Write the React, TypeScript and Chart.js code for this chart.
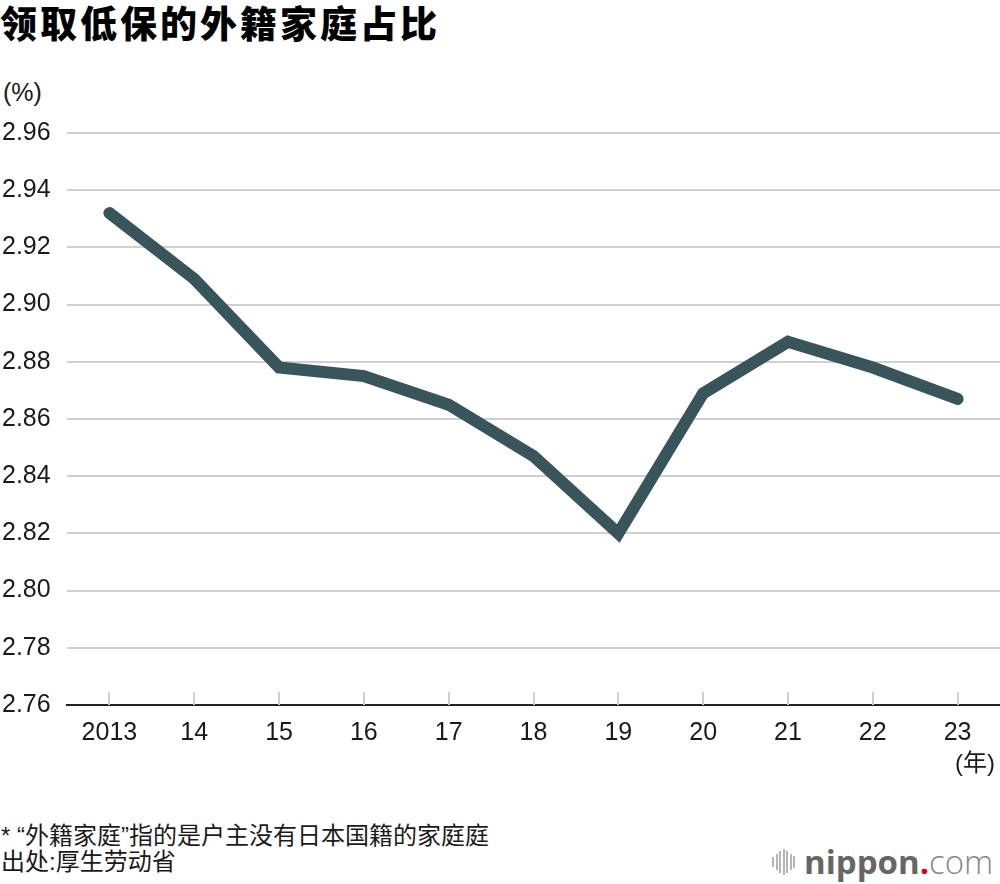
import React, { useEffect, useRef } from "react";
import { Chart, registerables } from "chart.js";

Chart.register(...registerables);

const years = ["2013", "14", "15", "16", "17", "18", "19", "20", "21", "22", "23"];
const shares = [2.932, 2.909, 2.878, 2.875, 2.865, 2.847, 2.82, 2.869, 2.887, 2.878, 2.867];
const yMin = 2.76;
const yMax = 2.96;
const yStep = 0.02;

const titleText = "领取低保的外籍家庭占比";
const unitText = "(%)";
const yearUnitText = "(年)";
const noteText = "* “外籍家庭”指的是户主没有日本国籍的家庭庭";
const sourceText = "出处:厚生劳动省";

const LINE_COLOR = "#37555b";
const GRID_COLOR = "#cfcfcf";
const TEXT_COLOR = "#1a1a1a";
const NUM_FONT = "'Liberation Sans', Arial, Helvetica, sans-serif";
const CJK_FONT = "'Noto Sans CJK SC', 'Noto Sans', sans-serif";
const MIX_FONT = "'Liberation Sans', 'Noto Sans CJK SC', sans-serif";

const upTicks = {
  id: "upTicks",
  beforeDatasetsDraw(chart: any) {
    const x = chart.scales.x;
    const { ctx, chartArea } = chart;
    ctx.save();
    ctx.strokeStyle = GRID_COLOR;
    ctx.lineWidth = 2;
    for (let i = 0; i < x.ticks.length; i++) {
      const px = Math.round(x.getPixelForTick(i));
      ctx.beginPath();
      ctx.moveTo(px, chartArea.bottom - 13);
      ctx.lineTo(px, chartArea.bottom);
      ctx.stroke();
    }
    ctx.restore();
  },
};

function ChartCanvas() {
  const ref = useRef<HTMLCanvasElement | null>(null);
  useEffect(() => {
    if (!ref.current) return;
    const chart = new Chart(ref.current, {
      type: "line",
      data: {
        labels: years,
        datasets: [
          {
            data: shares,
            borderColor: LINE_COLOR,
            borderWidth: 12,
            borderCapStyle: "round",
            borderJoinStyle: "miter",
            pointRadius: 0,
            tension: 0,
            fill: false,
          },
        ],
      },
      options: {
        responsive: false,
        animation: false,
        devicePixelRatio: 1,
        layout: { padding: { top: 33, left: 2, right: 0, bottom: 0 } },
        plugins: { legend: { display: false }, tooltip: { enabled: false }, title: { display: false } },
        scales: {
          x: {
            type: "category",
            offset: true,
            grid: { display: true, drawOnChartArea: false, drawTicks: false, color: "rgba(0,0,0,0)" },
            border: { display: true, color: "#222", width: 2 },
            ticks: {
              color: TEXT_COLOR,
              font: { family: NUM_FONT, size: 25 },
              padding: 13,
              maxRotation: 0,
              autoSkip: false,
            },
            afterFit(scale: any) {
              scale.height = 55;
            },
          },
          y: {
            min: yMin,
            max: yMax,
            grid: {
              drawTicks: false,
              lineWidth: 2,
              color: (c: any) => (c.tick && Math.abs(c.tick.value - yMin) < 1e-6 ? "rgba(0,0,0,0)" : GRID_COLOR),
            },
            border: { display: false },
            ticks: {
              stepSize: yStep,
              crossAlign: "far",
              color: TEXT_COLOR,
              font: { family: NUM_FONT, size: 25 },
              callback: (v: any) => Number(v).toFixed(2),
            },
            afterFit(scale: any) {
              scale.width = 65;
            },
          },
        },
      },
      plugins: [upTicks],
    } as any);
    return () => chart.destroy();
  }, []);
  return <canvas ref={ref} width={1000} height={660} style={{ position: "absolute", left: 0, top: 100, width: 1000, height: 660 }} />;
}

function Logo() {
  const bars = [10, 16, 22, 26, 22, 16, 12];
  return (
    <div style={{ position: "absolute", left: 772, top: 843, height: 38, display: "flex", alignItems: "center" }}>
      <div style={{ display: "flex", alignItems: "center", gap: 1.5, marginRight: 9 }}>
        {bars.map((h, i) => (
          <div key={i} style={{ width: 2, height: h, background: "#b5b5b5" }} />
        ))}
      </div>
      <span style={{ fontFamily: "'Open Sans', sans-serif", fontWeight: 700, fontSize: 33, color: "#666", lineHeight: "38px" }}>nippon</span>
      <span style={{ fontFamily: "'Open Sans', sans-serif", fontWeight: 700, fontSize: 33, color: "#e60012", lineHeight: "38px" }}>.</span>
      <span style={{ fontFamily: "'Open Sans', sans-serif", fontWeight: 300, fontSize: 33, color: "#888", lineHeight: "38px" }}>com</span>
    </div>
  );
}

export default function App() {
  return (
    <div style={{ position: "absolute", left: 0, top: 0, width: 1000, height: 884, background: "#fff", overflow: "hidden" }}>
      <div style={{ position: "absolute", left: 0, top: 0, fontFamily: CJK_FONT, fontWeight: 900, fontSize: 37, letterSpacing: 3, lineHeight: "44px", color: "#000", whiteSpace: "nowrap" }}>
        {titleText}
      </div>
      <div style={{ position: "absolute", left: 3, top: 77, fontFamily: NUM_FONT, fontSize: 25, lineHeight: "30px", color: TEXT_COLOR }}>
        {unitText}
      </div>
      <ChartCanvas />
      <div style={{ position: "absolute", right: 5, top: 748, fontFamily: MIX_FONT, fontSize: 24, lineHeight: "30px", color: TEXT_COLOR }}>
        {yearUnitText}
      </div>
      <div style={{ position: "absolute", left: 1, top: 823, fontFamily: MIX_FONT, fontSize: 24, lineHeight: "26px", color: TEXT_COLOR, whiteSpace: "nowrap" }}>
        <div>{noteText}</div>
        <div>{sourceText}</div>
      </div>
      <Logo />
    </div>
  );
}
